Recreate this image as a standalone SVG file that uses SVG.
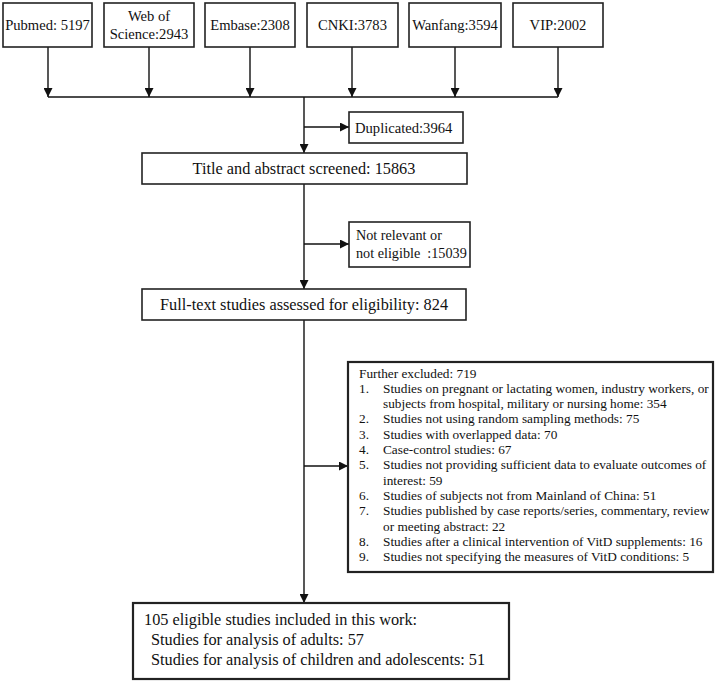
<svg xmlns="http://www.w3.org/2000/svg" width="716" height="683" viewBox="0 0 716 683">
<defs>
<marker id="ah" viewBox="0 0 10 10" refX="10" refY="5" markerWidth="9" markerHeight="9" markerUnits="userSpaceOnUse" orient="auto">
<path d="M0,0 L10,5 L0,10 z" fill="#111"/>
</marker>
<style>
.box{fill:#fff;stroke:#222;stroke-width:1.6}
.thick{stroke-width:2.2}
.t{font-family:"Liberation Serif","Times New Roman",serif;fill:#111}
.s14{font-size:14.6px}
.s14b{font-size:14.2px}
.s16{font-size:16.3px}
.s13{font-size:13.3px}
.ln{fill:none;stroke:#111;stroke-width:1.4}
.ar{fill:none;stroke:#111;stroke-width:1.4;marker-end:url(#ah)}
</style>
</defs>
<rect width="716" height="683" fill="#fff"/>
<g id="connectors">
<line class="ar" x1="48" y1="47" x2="48" y2="97"/>
<line class="ar" x1="149" y1="47" x2="149" y2="97"/>
<line class="ar" x1="250" y1="47" x2="250" y2="97"/>
<line class="ar" x1="352" y1="47" x2="352" y2="97"/>
<line class="ar" x1="455" y1="47" x2="455" y2="97"/>
<line class="ar" x1="558" y1="47" x2="558" y2="97"/>
<line class="ln" x1="48" y1="97" x2="558" y2="97"/>
<line class="ar" x1="304" y1="97" x2="304" y2="153"/>
<line class="ar" x1="304" y1="127" x2="349" y2="127"/>
<line class="ar" x1="304" y1="184" x2="304" y2="289"/>
<line class="ar" x1="304" y1="244" x2="349" y2="244"/>
<line class="ar" x1="304" y1="320" x2="304" y2="603"/>
<line class="ar" x1="304" y1="466" x2="348" y2="466"/>
</g>
<g id="pubmed">
<rect class="box" x="3" y="3" width="89" height="44"/>
<text class="t s14" x="47.5" y="30" text-anchor="middle">Pubmed: 5197</text>
</g>
<g id="wos">
<rect class="box" x="104" y="3" width="90" height="44"/>
<text class="t s14" x="149" y="21" text-anchor="middle">Web of</text>
<text class="t s14" x="149" y="39" text-anchor="middle">Science:2943</text>
</g>
<g id="embase">
<rect class="box" x="205" y="3" width="90" height="44"/>
<text class="t s14" x="250" y="30" text-anchor="middle">Embase:2308</text>
</g>
<g id="cnki">
<rect class="box" x="307" y="3" width="91" height="44"/>
<text class="t s14" x="352.5" y="30" text-anchor="middle">CNKI:3783</text>
</g>
<g id="wanfang">
<rect class="box" x="409" y="3" width="92" height="44"/>
<text class="t s14" x="455" y="30" text-anchor="middle">Wanfang:3594</text>
</g>
<g id="vip">
<rect class="box" x="513" y="3" width="90" height="44"/>
<text class="t s14" x="558" y="30" text-anchor="middle">VIP:2002</text>
</g>
<g id="duplicated">
<rect class="box" x="349" y="112" width="114" height="31"/>
<text class="t s14" x="355" y="133">Duplicated:3964</text>
</g>
<g id="title">
<rect class="box" x="142" y="153" width="325" height="31"/>
<text class="t s16" x="304" y="174" text-anchor="middle">Title and abstract screened: 15863</text>
</g>
<g id="notrelevant">
<rect class="box" x="349" y="222" width="121" height="45"/>
<text class="t s14b" x="356" y="240">Not relevant or</text>
<text class="t s14b" x="356" y="258">not eligible&#160; :15039</text>
</g>
<g id="fulltext">
<rect class="box" x="142" y="289" width="324" height="31"/>
<text class="t s16" x="304" y="310" text-anchor="middle">Full-text studies assessed for eligibility: 824</text>
</g>
<g id="excluded">
<rect class="box thick" x="348" y="362" width="365" height="210"/>
<g class="t s13">
<text x="359" y="377.5">Further excluded: 719</text>
<text x="359" y="392.8">1.</text><text x="383" y="392.8">Studies on pregnant or lactating women, industry workers, or</text>
<text x="383" y="408.1">subjects from hospital, military or nursing home: 354</text>
<text x="359" y="423.4">2.</text><text x="383" y="423.4">Studies not using random sampling methods: 75</text>
<text x="359" y="438.7">3.</text><text x="383" y="438.7">Studies with overlapped data: 70</text>
<text x="359" y="454">4.</text><text x="383" y="454">Case-control studies: 67</text>
<text x="359" y="469.3">5.</text><text x="383" y="469.3">Studies not providing sufficient data to evaluate outcomes of</text>
<text x="383" y="484.6">interest: 59</text>
<text x="359" y="499.9">6.</text><text x="383" y="499.9">Studies of subjects not from Mainland of China: 51</text>
<text x="359" y="515.2">7.</text><text x="383" y="515.2">Studies published by case reports/series, commentary, review</text>
<text x="383" y="530.5">or meeting abstract: 22</text>
<text x="359" y="545.8">8.</text><text x="383" y="545.8">Studies after a clinical intervention of VitD supplements: 16</text>
<text x="359" y="561.1">9.</text><text x="383" y="561.1">Studies not specifying the measures of VitD conditions: 5</text>
</g>
</g>
<g id="included">
<rect class="box thick" x="133" y="603" width="376" height="76"/>
<text class="t s16" x="144" y="625">105 eligible studies included in this work:</text>
<text class="t s16" x="151" y="645">Studies for analysis of adults: 57</text>
<text class="t s16" x="151" y="665">Studies for analysis of children and adolescents: 51</text>
</g>
</svg>
